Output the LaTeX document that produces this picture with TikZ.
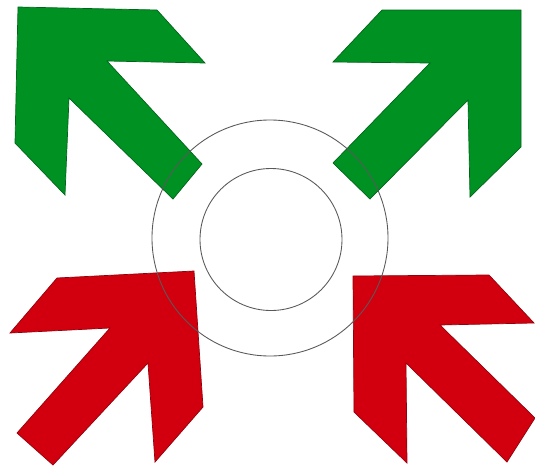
\documentclass[tikz,border=0pt]{standalone}
\usepackage{tikz}
\definecolor{arrowgreen}{RGB}{0,145,35}
\definecolor{arrowred}{RGB}{210,0,14}
\tikzset{
  greenarrow/.style={fill=arrowgreen, draw=arrowgreen!70!black, line width=0.4pt},
  redarrow/.style={fill=arrowred, draw=arrowred!70!black, line width=0.4pt},
  ring/.style={draw=black!65, line width=0.5pt}
}

\begin{document}
\begin{tikzpicture}[x=0.02cm, y=-0.02cm]
      \useasboundingbox (0,0) rectangle (535,467);
      % Arrow 1: green, up-left
      \filldraw[greenarrow] (18,7) -- (157,10) -- (205,63) -- (107,61) -- (202,164)
        -- (173,199) -- (69,98) -- (65,195) -- (15,143) -- cycle;
      % Arrow 2: green, up-right
      \filldraw[greenarrow] (382,10) -- (521,10) -- (521,147) -- (470,197) -- (468,100)
        -- (370,199) -- (333,163) -- (430,63) -- (333,62) -- cycle;
      % Arrow 3: red, bottom-left
      \filldraw[redarrow] (57,278) -- (194,271) -- (203,407) -- (155,462) -- (148,363)
        -- (53,465) -- (17,433) -- (110,328) -- (10,333) -- cycle;
      % Arrow 4: red, bottom-right
      \filldraw[redarrow] (353,276) -- (489,275) -- (534,323) -- (440,325) -- (535,418)
        -- (507,462) -- (406,363) -- (407,463) -- (354,412) -- cycle;
      % Rings
      \draw[ring] (270,238) circle (118);
      \draw[ring] (271,239.5) circle (71);
    \end{tikzpicture}
\end{document}
